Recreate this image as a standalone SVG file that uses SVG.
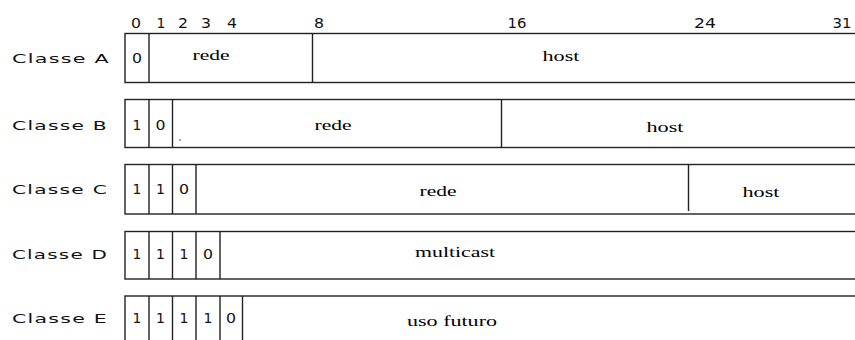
<svg xmlns="http://www.w3.org/2000/svg" width="855" height="340" viewBox="0 0 855 340">
<style>
.bg{fill:#fff}
.box{fill:#fff;stroke:#222;stroke-width:1.4}
.div{stroke:#222;stroke-width:1.4}
.lbl{font-family:"DejaVu Sans","Liberation Sans",Arial,sans-serif;font-size:13px;letter-spacing:0.8px;fill:#111}
.bit{font-family:"DejaVu Sans","Liberation Sans",Arial,sans-serif;font-size:14px;fill:#111;text-anchor:middle}
.fld{font-family:"Liberation Serif","Times New Roman",serif;font-size:14px;fill:#000;text-anchor:middle}
</style>
<rect class="bg" x="0" y="0" width="855" height="340"/>
<g id="scale">
<text class="bit" x="136" y="28" textLength="10" lengthAdjust="spacingAndGlyphs">0</text>
<text class="bit" x="161" y="28">1</text>
<text class="bit" x="183" y="28" textLength="10" lengthAdjust="spacingAndGlyphs">2</text>
<text class="bit" x="206" y="28" textLength="10" lengthAdjust="spacingAndGlyphs">3</text>
<text class="bit" x="232" y="28" textLength="10" lengthAdjust="spacingAndGlyphs">4</text>
<text class="bit" x="319" y="28" textLength="10" lengthAdjust="spacingAndGlyphs">8</text>
<text class="bit" x="517" y="28" textLength="19" lengthAdjust="spacingAndGlyphs">16</text>
<text class="bit" x="705" y="28" textLength="22" lengthAdjust="spacingAndGlyphs">24</text>
<text class="bit" x="842" y="28" textLength="19" lengthAdjust="spacingAndGlyphs">31</text>
</g>
<g id="classeA">
<text class="lbl" x="12" y="63" textLength="98" lengthAdjust="spacingAndGlyphs">Classe A</text>
<rect class="box" x="125" y="33.5" width="750" height="49"/>
<line class="div" x1="149" y1="33.5" x2="149" y2="82.5"/>
<line class="div" x1="312.5" y1="33.5" x2="312.5" y2="82.5"/>
<text class="bit" x="137" y="63" textLength="10" lengthAdjust="spacingAndGlyphs">0</text>
<text class="fld" x="211" y="60" textLength="37" lengthAdjust="spacingAndGlyphs">rede</text>
<text class="fld" x="561" y="61" textLength="37" lengthAdjust="spacingAndGlyphs">host</text>
</g>
<g id="classeB">
<text class="lbl" x="12" y="130" textLength="96" lengthAdjust="spacingAndGlyphs">Classe B</text>
<rect class="box" x="125" y="99.5" width="750" height="48"/>
<line class="div" x1="149" y1="99.5" x2="149" y2="147.5"/>
<line class="div" x1="172.5" y1="99.5" x2="172.5" y2="147.5"/>
<line class="div" x1="501.5" y1="99.5" x2="501.5" y2="147.5"/>
<text class="bit" x="137" y="130">1</text>
<text class="bit" x="160.5" y="130" textLength="10" lengthAdjust="spacingAndGlyphs">0</text>
<circle cx="180" cy="140" r="0.8" fill="#333"/>
<text class="fld" x="333" y="130" textLength="37" lengthAdjust="spacingAndGlyphs">rede</text>
<text class="fld" x="665" y="132" textLength="37" lengthAdjust="spacingAndGlyphs">host</text>
</g>
<g id="classeC">
<text class="lbl" x="12" y="194" textLength="96" lengthAdjust="spacingAndGlyphs">Classe C</text>
<rect class="box" x="125" y="164.5" width="750" height="49.5"/>
<line class="div" x1="149" y1="164.5" x2="149" y2="214"/>
<line class="div" x1="172.5" y1="164.5" x2="172.5" y2="214"/>
<line class="div" x1="196" y1="164.5" x2="196" y2="214"/>
<line class="div" x1="688.5" y1="164.5" x2="688.5" y2="211"/>
<text class="bit" x="137" y="194">1</text>
<text class="bit" x="160.5" y="194">1</text>
<text class="bit" x="184" y="194" textLength="10" lengthAdjust="spacingAndGlyphs">0</text>
<text class="fld" x="438" y="196" textLength="37" lengthAdjust="spacingAndGlyphs">rede</text>
<text class="fld" x="761" y="197" textLength="37" lengthAdjust="spacingAndGlyphs">host</text>
</g>
<g id="classeD">
<text class="lbl" x="12" y="259" textLength="96" lengthAdjust="spacingAndGlyphs">Classe D</text>
<rect class="box" x="125" y="231.5" width="750" height="47.5"/>
<line class="div" x1="149" y1="231.5" x2="149" y2="279"/>
<line class="div" x1="172.5" y1="231.5" x2="172.5" y2="279"/>
<line class="div" x1="196" y1="231.5" x2="196" y2="279"/>
<line class="div" x1="220" y1="231.5" x2="220" y2="279"/>
<text class="bit" x="137" y="259">1</text>
<text class="bit" x="160.5" y="259">1</text>
<text class="bit" x="184" y="259">1</text>
<text class="bit" x="208" y="259" textLength="10" lengthAdjust="spacingAndGlyphs">0</text>
<text class="fld" x="455" y="257" textLength="80" lengthAdjust="spacingAndGlyphs">multicast</text>
</g>
<g id="classeE">
<text class="lbl" x="12" y="323" textLength="96" lengthAdjust="spacingAndGlyphs">Classe E</text>
<rect class="box" x="125" y="296" width="750" height="60"/>
<line class="div" x1="149" y1="296" x2="149" y2="356"/>
<line class="div" x1="172.5" y1="296" x2="172.5" y2="356"/>
<line class="div" x1="196" y1="296" x2="196" y2="356"/>
<line class="div" x1="220" y1="296" x2="220" y2="356"/>
<line class="div" x1="242.5" y1="296" x2="242.5" y2="356"/>
<text class="bit" x="137" y="323">1</text>
<text class="bit" x="160.5" y="323">1</text>
<text class="bit" x="184" y="323">1</text>
<text class="bit" x="208" y="323">1</text>
<text class="bit" x="231" y="323" textLength="10" lengthAdjust="spacingAndGlyphs">0</text>
<text class="fld" x="452" y="326" textLength="90" lengthAdjust="spacingAndGlyphs">uso futuro</text>
</g>
</svg>
